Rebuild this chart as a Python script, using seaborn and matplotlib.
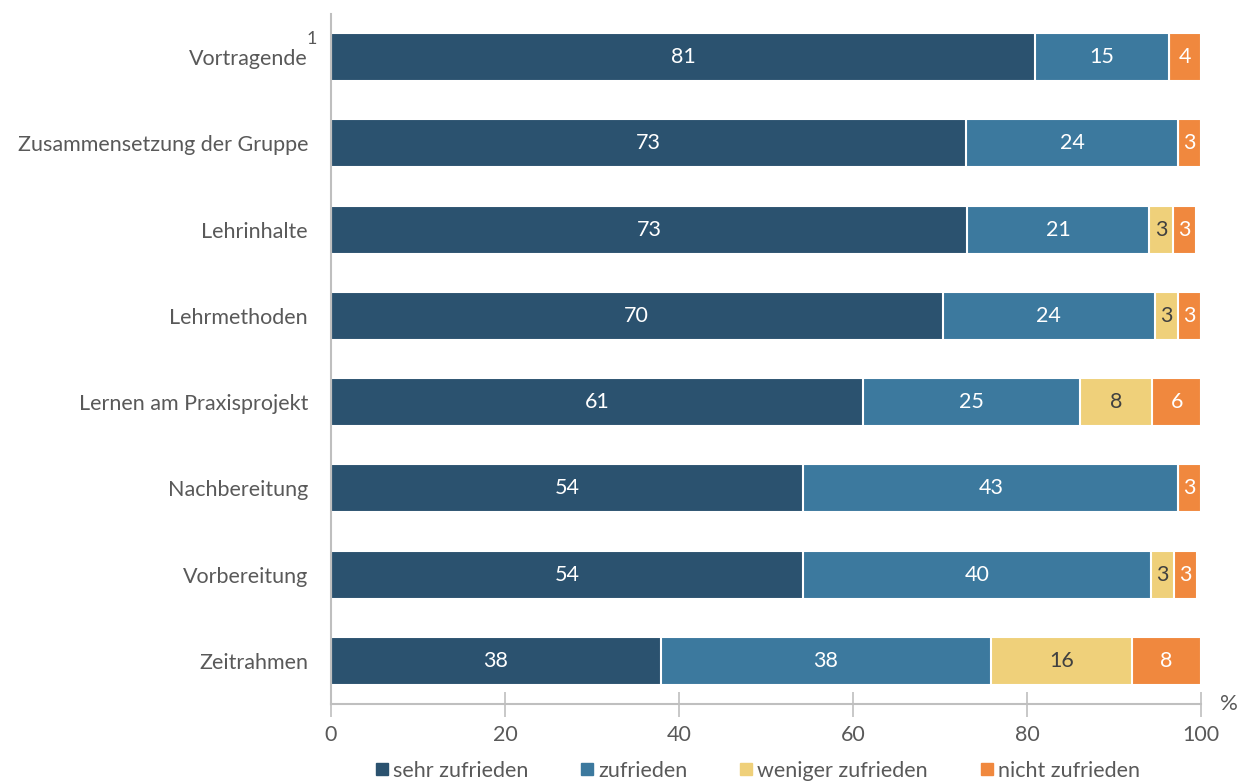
import matplotlib
matplotlib.use("Agg")
import matplotlib.pyplot as plt
import seaborn as sns
import numpy as np
import pandas as pd
from matplotlib.lines import Line2D

categories = ["Vortragende", "Zusammensetzung der Gruppe", "Lehrinhalte", "Lehrmethoden",
              "Lernen am Praxisprojekt", "Nachbereitung", "Vorbereitung", "Zeitrahmen"]
sehr_zufrieden = [80.9, 73.0, 73.1, 70.3, 61.1, 54.3, 54.3, 37.9]
zufrieden = [15.4, 24.4, 20.9, 24.4, 25.0, 43.1, 40.0, 38.0]
weniger_zufrieden = [0.0, 0.0, 2.8, 2.7, 8.3, 0.0, 2.6, 16.2]
nicht_zufrieden = [3.7, 2.6, 2.6, 2.6, 5.6, 2.6, 2.6, 7.9]
series_names = ["sehr zufrieden", "zufrieden", "weniger zufrieden", "nicht zufrieden"]
colors = ["#2B526F", "#3C799E", "#EFD07A", "#F0883E"]
label_colors = ["white", "white", "#404040", "white"]
x_ticks = [0, 20, 40, 60, 80, 100]

sns.set_theme(style="white")
plt.rcParams["font.family"] = ["Lato", "DejaVu Sans"]
grey = "#595959"
axis_grey = "#BFBFBF"
fs = 15.5

fig = plt.figure(figsize=(12.47, 7.84), dpi=100)
ax = fig.add_axes([331/1247, 1-704/784, (1201-331)/1247, (704-14)/784])

series = [sehr_zufrieden, zufrieden, weniger_zufrieden, nicht_zufrieden]
cums = np.cumsum(np.array(series), axis=0)

# draw cumulative bars from largest to smallest (stacked)
for i in range(3, -1, -1):
    df = pd.DataFrame({"cat": categories, "val": cums[i]})
    sns.barplot(data=df, y="cat", x="val", orient="h", color=colors[i],
                saturation=1, width=0.556, edgecolor="white", linewidth=1.5, ax=ax)

# segment labels
for i in range(4):
    starts = cums[i] - np.array(series[i])
    for j, v in enumerate(series[i]):
        if v <= 0:
            continue
        ax.text(starts[j] + v/2, j, f"{round(v):d}", ha="center", va="center",
                color=label_colors[i], fontsize=fs)

ax.set_xlim(0, 100)
ax.set_ylim(7.5, -0.5)
ax.set_xticks(x_ticks)
ax.set_xticklabels([str(t) for t in x_ticks])
ax.set_xlabel("")
ax.set_ylabel("")
for s in ["top", "right"]:
    ax.spines[s].set_visible(False)
ax.spines["left"].set_color(axis_grey)
ax.spines["left"].set_linewidth(1.5)
ax.spines["bottom"].set_color(axis_grey)
ax.spines["bottom"].set_linewidth(1.5)
ax.tick_params(axis="x", direction="inout", length=18, width=1.2, color=axis_grey,
               labelsize=fs, labelcolor=grey, pad=6, bottom=True)
ax.tick_params(axis="y", length=0, labelsize=fs, labelcolor=grey, pad=16.5)

# footnote marker and unit
ax.annotate("1", xy=(0, 0), xycoords=("axes fraction", "data"), xytext=(-14, 13),
            textcoords="offset points", ha="center", va="center", color=grey,
            fontsize=13)
ax.annotate("%", xy=(1, 0), xycoords="axes fraction", xytext=(20, 0),
            textcoords="offset points", ha="center", va="center", color=grey,
            fontsize=16)

handles = [Line2D([0], [0], marker="s", linestyle="none", markersize=9,
                  markerfacecolor=c, markeredgecolor=c) for c in colors]
leg = fig.legend(handles, series_names, loc="center", bbox_to_anchor=(756/1247, 1-771/784),
                 ncol=4, frameon=False, fontsize=fs, handletextpad=0.05, columnspacing=2.3,
                 handlelength=0.9)
for t in leg.get_texts():
    t.set_color(grey)

fig.savefig("out.png", dpi=100)
